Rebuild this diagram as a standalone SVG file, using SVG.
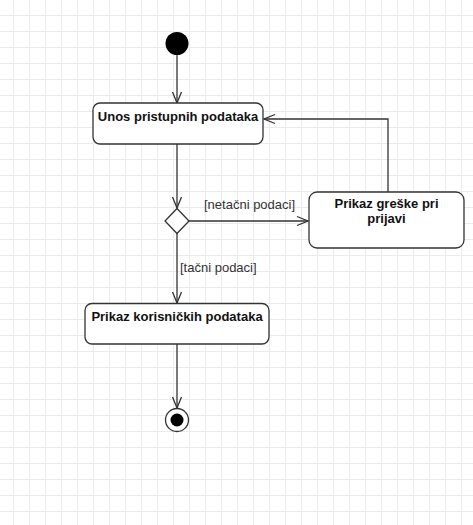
<svg xmlns="http://www.w3.org/2000/svg" width="473" height="525" viewBox="0 0 473 525">
<defs>
<pattern id="grid" x="13" y="15" width="16" height="16" patternUnits="userSpaceOnUse">
<path d="M0.5,0 V16 M0,0.5 H16" stroke="#ebebeb" stroke-width="1" fill="none"/>
</pattern>
<marker id="arr" markerUnits="userSpaceOnUse" markerWidth="14" markerHeight="12" viewBox="-12 -6 14 12" refX="0" refY="0" orient="auto">
<path d="M-11,-4.5 L0,0 L-11,4.5" fill="none" stroke="#333" stroke-width="1.3"/>
</marker>
</defs>
<style>
.box{fill:#fff;stroke:#333;stroke-width:1.3}
.t{font-family:"Liberation Sans",Arial,sans-serif;font-size:13px;font-weight:bold;fill:#111;text-anchor:middle}
.lbl{font-family:"Liberation Sans",Arial,sans-serif;font-size:13px;fill:#333}
.edge{fill:none;stroke:#333;stroke-width:1.3;marker-end:url(#arr)}
</style>
<rect width="473" height="525" fill="#fff"/>
<rect width="473" height="525" fill="url(#grid)"/>
<g id="connectors">
<path class="edge" d="M177,55 V103"/>
<path class="edge" d="M177,144 V208"/>
<path class="edge" d="M189,221 H308"/>
<path class="edge" d="M388,192 V119 H264"/>
<path class="edge" d="M177,233 V303"/>
<path class="edge" d="M177,344 V408"/>
<text class="lbl" x="204" y="209">[netačni podaci]</text>
<text class="lbl" x="180" y="272">[tačni podaci]</text>
</g>
<g id="start">
<circle cx="177" cy="43.5" r="11.5" fill="#000"/>
</g>
<g id="unos">
<rect class="box" x="93" y="103" width="170" height="41" rx="7"/>
<text class="t" x="178" y="121">Unos pristupnih podataka</text>
</g>
<g id="decision">
<path d="M177,208.5 L189,221 L177,233.5 L165,221 Z" fill="#fff" stroke="#333" stroke-width="1.3"/>
</g>
<g id="greska">
<rect class="box" x="309" y="192" width="155" height="56" rx="8"/>
<text class="t" x="386.5" y="208">Prikaz greške pri</text>
<text class="t" x="386.5" y="223">prijavi</text>
</g>
<g id="prikaz">
<rect class="box" x="85" y="303.5" width="184" height="40.5" rx="7"/>
<text class="t" x="177" y="321">Prikaz korisničkih podataka</text>
</g>
<g id="end">
<circle cx="177" cy="420" r="11.5" fill="#fff" stroke="#333" stroke-width="1.3"/>
<circle cx="177" cy="420" r="6.5" fill="#000"/>
</g>
</svg>
